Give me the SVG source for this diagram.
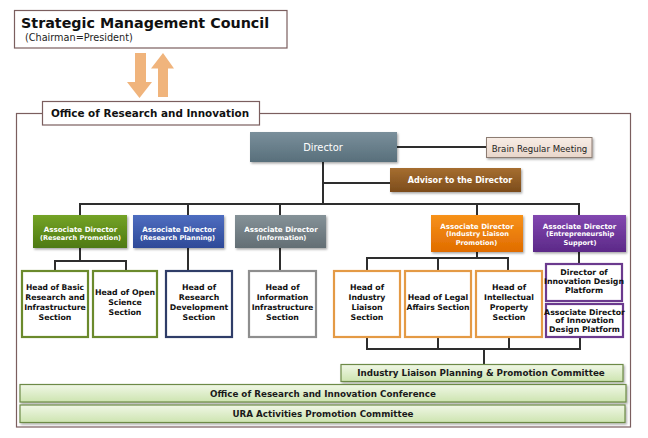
<svg xmlns="http://www.w3.org/2000/svg" width="648" height="438" viewBox="0 0 648 438">
<defs>
  <style>
    text { font-family: "DejaVu Sans", Verdana, sans-serif; }
    .b { font-weight: bold; }
    .c { text-anchor: middle; }
    .w { fill: #ffffff; }
    .k { fill: #111111; }
    .frame { fill: none; stroke: #7b5e5e; stroke-width: 1.2; }
    .plain { fill: #ffffff; stroke: #7b5e5e; stroke-width: 1.2; }
    .conn line, .conn polyline { stroke: #2e2e2e; stroke-width: 2; fill: none; }
    .head { fill: #ffffff; stroke-width: 2.2; }
    .hs { font-size: 7.8px; font-weight: bold; fill: #111111; text-anchor: middle; }
    .ad1 { font-size: 7.1px; font-weight: bold; fill: #ffffff; text-anchor: middle; }
    .ad2 { font-size: 6.6px; font-weight: bold; fill: #ffffff; text-anchor: middle; }
    .bar { fill: url(#gBar); stroke: #6d8a47; stroke-width: 1.2; filter: url(#sh); }
    .bt { font-size: 8.76px; font-weight: bold; fill: #1a1a1a; text-anchor: middle; }
  </style>
  <filter id="sh" x="-10%" y="-20%" width="130%" height="160%">
    <feDropShadow dx="1.2" dy="1.5" stdDeviation="1" flood-color="#000" flood-opacity="0.35"/>
  </filter>
  <linearGradient id="gDir" x1="0" y1="0" x2="0" y2="1"><stop offset="0" stop-color="#7a8f9b"/><stop offset="1" stop-color="#586f7b"/></linearGradient>
  <linearGradient id="gAdv" x1="0" y1="0" x2="0" y2="1"><stop offset="0" stop-color="#a66e30"/><stop offset="1" stop-color="#7c4c1c"/></linearGradient>
  <linearGradient id="gBrain" x1="0" y1="0" x2="0" y2="1"><stop offset="0" stop-color="#f8ede6"/><stop offset="1" stop-color="#e8d6ca"/></linearGradient>
  <linearGradient id="gGreen" x1="0" y1="0" x2="0" y2="1"><stop offset="0" stop-color="#74a326"/><stop offset="1" stop-color="#4e7a12"/></linearGradient>
  <linearGradient id="gBlue" x1="0" y1="0" x2="0" y2="1"><stop offset="0" stop-color="#4e6dc0"/><stop offset="1" stop-color="#2e4a98"/></linearGradient>
  <linearGradient id="gGray" x1="0" y1="0" x2="0" y2="1"><stop offset="0" stop-color="#859298"/><stop offset="1" stop-color="#636e74"/></linearGradient>
  <linearGradient id="gOrange" x1="0" y1="0" x2="0" y2="1"><stop offset="0" stop-color="#f7921a"/><stop offset="1" stop-color="#e06c00"/></linearGradient>
  <linearGradient id="gPurple" x1="0" y1="0" x2="0" y2="1"><stop offset="0" stop-color="#8247b0"/><stop offset="1" stop-color="#5c2988"/></linearGradient>
  <linearGradient id="gBar" x1="0" y1="0" x2="0" y2="1"><stop offset="0" stop-color="#f0f7e6"/><stop offset="1" stop-color="#cde4b0"/></linearGradient>
</defs>

<rect width="648" height="438" fill="#ffffff"/>

<!-- Outer frame -->
<rect class="frame" x="16.5" y="113.5" width="614" height="313.5"/>

<g id="council">
  <rect class="plain" x="14.5" y="10.5" width="272.5" height="37.5"/>
  <text class="b" x="21" y="28" font-size="14.3" fill="#111">Strategic Management Council</text>
  <text x="25" y="41" font-size="9.7" fill="#222">(Chairman=President)</text>
</g>

<g id="arrows" fill="#f0b47c">
  <polygon points="135,53 146,53 146,82 152,82 139.5,98 127,82 135,82"/>
  <polygon points="163,53 174,68.5 168,68.5 168,97 158,97 158,68.5 151,68.5"/>
</g>

<g id="office">
  <rect class="plain" x="42.5" y="101.5" width="217" height="23.5"/>
  <text class="b c" x="150" y="117" font-size="10.4" fill="#111">Office of Research and Innovation</text>
</g>

<g class="conn" id="connectors">
  <line x1="397" y1="147" x2="486" y2="147"/>
  <line x1="323" y1="162" x2="323" y2="205"/>
  <line x1="323" y1="183" x2="390" y2="183"/>
  <line x1="79" y1="204" x2="580" y2="204"/>
  <line x1="80" y1="204" x2="80" y2="215"/>
  <line x1="188" y1="204" x2="188" y2="215"/>
  <line x1="280" y1="204" x2="280" y2="215"/>
  <line x1="477" y1="204" x2="477" y2="215"/>
  <line x1="579" y1="204" x2="579" y2="215"/>
  <line x1="80" y1="248" x2="80" y2="261"/>
  <polyline points="55,271 55,261 126,261 126,271"/>
  <line x1="188" y1="248" x2="188" y2="271"/>
  <line x1="280" y1="248" x2="280" y2="271"/>
  <line x1="477" y1="252" x2="477" y2="258"/>
  <polyline points="367,271 367,258 508,258 508,271"/>
  <line x1="438" y1="258" x2="438" y2="271"/>
  <line x1="579" y1="252" x2="579" y2="264"/>
  <polyline points="367,337 367,349 580,349 580,337"/>
  <line x1="438" y1="337" x2="438" y2="349"/>
  <line x1="509" y1="337" x2="509" y2="349"/>
  <line x1="484" y1="349" x2="484" y2="364"/>
</g>

<g id="director">
  <rect x="250" y="132" width="147" height="30" fill="url(#gDir)" filter="url(#sh)"/>
  <text class="w c" x="323" y="150.5" font-size="9.9">Director</text>
</g>

<g id="brain">
  <rect x="486.5" y="137.5" width="105.5" height="20" fill="url(#gBrain)" stroke="#8c7b72" stroke-width="1" filter="url(#sh)"/>
  <text class="c" x="539.5" y="151.5" font-size="8.6" fill="#222">Brain Regular Meeting</text>
</g>

<g id="advisor">
  <rect x="390" y="168" width="131" height="24" fill="url(#gAdv)" filter="url(#sh)"/>
  <text class="b w c" x="460" y="183" font-size="8.1">Advisor to the Director</text>
</g>

<g id="ad-research-promotion">
  <rect x="33" y="215" width="94" height="33" fill="url(#gGreen)" filter="url(#sh)"/>
  <text class="ad1" x="80.5" y="232">Associate Director</text>
  <text class="ad2" x="80.5" y="239.5">(Research Promotion)</text>
</g>
<g id="ad-research-planning">
  <rect x="133" y="215" width="91" height="33" fill="url(#gBlue)" filter="url(#sh)"/>
  <text class="ad1" x="179" y="232">Associate Director</text>
  <text class="ad2" x="177.5" y="239.5">(Research Planning)</text>
</g>
<g id="ad-information">
  <rect x="235" y="215" width="91" height="33" fill="url(#gGray)" filter="url(#sh)"/>
  <text class="ad1" x="281" y="232">Associate Director</text>
  <text class="ad2" x="281.5" y="239.5">(Information)</text>
</g>
<g id="ad-industry">
  <rect x="431" y="215" width="92" height="37" fill="url(#gOrange)" filter="url(#sh)"/>
  <text class="ad1" x="477" y="228.5">Associate Director</text>
  <text class="ad2" x="477.5" y="236">(Industry Liaison</text>
  <text class="ad2" x="476.5" y="244.5">Promotion)</text>
</g>
<g id="ad-entrepreneurship">
  <rect x="533" y="215" width="93" height="37" fill="url(#gPurple)" filter="url(#sh)"/>
  <text class="ad1" x="579.5" y="228.5">Associate Director</text>
  <text class="ad2" x="580" y="236">(Entrepreneurship</text>
  <text class="ad2" x="580" y="244.5">Support)</text>
</g>

<g id="head-basic">
  <rect class="head" x="22" y="271" width="66" height="66" stroke="#6b8a2c"/>
  <text class="hs" x="55" y="290" textLength="58" lengthAdjust="spacingAndGlyphs">Head of Basic</text>
  <text class="hs" x="55" y="300">Research and</text>
  <text class="hs" x="55" y="310">Infrastructure</text>
  <text class="hs" x="55" y="320">Section</text>
</g>
<g id="head-open-science">
  <rect class="head" x="93" y="271" width="64" height="66" stroke="#6b8a2c"/>
  <text class="hs" x="125" y="295" textLength="60" lengthAdjust="spacingAndGlyphs">Head of Open</text>
  <text class="hs" x="125" y="305">Science</text>
  <text class="hs" x="125" y="315">Section</text>
</g>
<g id="head-research-dev">
  <rect class="head" x="166" y="271" width="66" height="66" stroke="#2f3d68"/>
  <text class="hs" x="199" y="290">Head of</text>
  <text class="hs" x="199" y="300">Research</text>
  <text class="hs" x="199" y="310">Development</text>
  <text class="hs" x="199" y="320">Section</text>
</g>
<g id="head-info-infra">
  <rect class="head" x="249" y="271" width="67" height="66" stroke="#8e8e8e"/>
  <text class="hs" x="282.5" y="290">Head of</text>
  <text class="hs" x="282.5" y="300">Information</text>
  <text class="hs" x="282.5" y="310">Infrastructure</text>
  <text class="hs" x="282.5" y="320">Section</text>
</g>
<g id="head-industry-liaison">
  <rect class="head" x="334" y="271" width="66" height="66" stroke="#e49a45"/>
  <text class="hs" x="367" y="290">Head of</text>
  <text class="hs" x="367" y="300">Industry</text>
  <text class="hs" x="367" y="310">Liaison</text>
  <text class="hs" x="367" y="320">Section</text>
</g>
<g id="head-legal">
  <rect class="head" x="405" y="271" width="66" height="66" stroke="#e49a45"/>
  <text class="hs" x="438" y="300">Head of Legal</text>
  <text class="hs" x="438" y="310" textLength="63" lengthAdjust="spacingAndGlyphs">Affairs Section</text>
</g>
<g id="head-ip">
  <rect class="head" x="476" y="271" width="66" height="66" stroke="#e49a45"/>
  <text class="hs" x="509" y="290">Head of</text>
  <text class="hs" x="509" y="300">Intellectual</text>
  <text class="hs" x="509" y="310">Property</text>
  <text class="hs" x="509" y="320">Section</text>
</g>
<g id="director-idp">
  <rect class="head" x="546" y="264" width="76" height="37" stroke="#6b3a8e"/>
  <text class="hs" x="584" y="275" font-size="7px">Director of</text>
  <text class="hs" x="584" y="284" font-size="7px">Innovation Design</text>
  <text class="hs" x="584" y="293" font-size="7px">Platform</text>
</g>
<g id="assoc-director-idp">
  <rect class="head" x="546" y="304" width="77" height="33" stroke="#6b3a8e"/>
  <text class="hs" x="584.5" y="314.5" font-size="6.9px">Associate Director</text>
  <text class="hs" x="584.5" y="323" font-size="6.9px">of Innovation</text>
  <text class="hs" x="584.5" y="332" font-size="6.9px">Design Platform</text>
</g>

<g id="industry-committee">
  <rect class="bar" x="341" y="364.5" width="282" height="17"/>
  <text class="bt" x="481" y="375.5">Industry Liaison Planning &amp; Promotion Committee</text>
</g>
<g id="conference">
  <rect class="bar" x="20" y="384.5" width="606" height="17.5"/>
  <text class="bt" x="323" y="396.5">Office of Research and Innovation Conference</text>
</g>
<g id="ura-committee">
  <rect class="bar" x="20" y="405" width="605" height="17.5"/>
  <text class="bt" x="323" y="417">URA Activities Promotion Committee</text>
</g>
</svg>
